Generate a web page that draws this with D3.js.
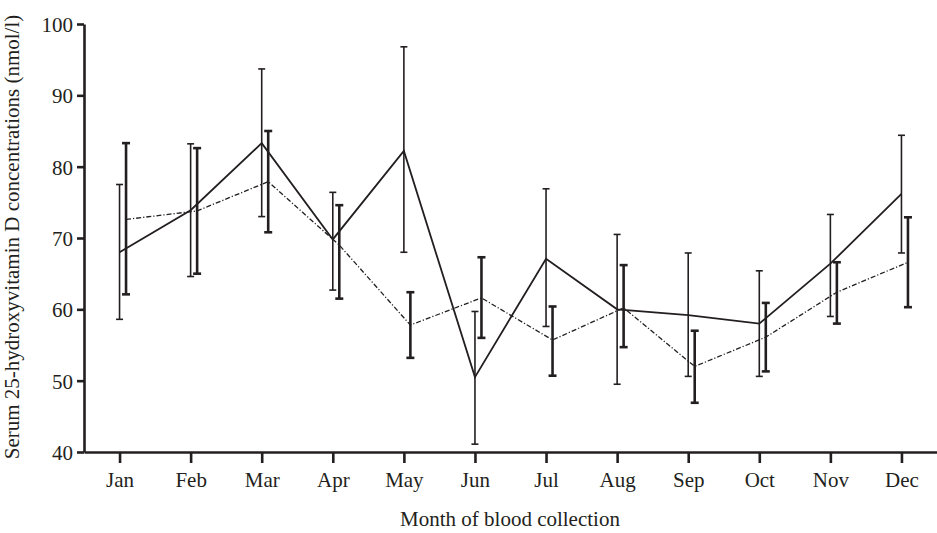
<!DOCTYPE html>
<html>
<head>
<meta charset="utf-8">
<script src="https://cdn.jsdelivr.net/npm/d3@7/dist/d3.min.js"></script>
<style>
  html, body { margin: 0; padding: 0; background: #fff; }
  svg { display: block; }
  text { font-family: "Liberation Serif", "Times New Roman", serif; fill: #231f20; }
</style>
</head>
<body>
<svg id="chart" width="937" height="533"></svg>
<script>
// ---- data ----
const months = ["Jan", "Feb", "Mar", "Apr", "May", "Jun", "Jul", "Aug", "Sep", "Oct", "Nov", "Dec"];
const yTicks = [40, 50, 60, 70, 80, 90, 100];

// Series A (solid line, thin error bars)
const solidMean = [68.0, 73.9, 83.3, 69.8, 82.2, 50.5, 67.1, 60.0, 59.2, 58.0, 66.4, 76.2];
const solidLow  = [58.6, 64.6, 73.0, 62.7, 68.0, 41.1, 57.6, 49.5, 50.6, 50.6, 59.0, 67.9];
const solidHigh = [77.5, 83.2, 93.7, 76.4, 96.8, 59.7, 76.9, 70.5, 67.9, 65.4, 73.3, 84.4];

// Series B (dash-dot line, thick error bars)
const dashMean = [72.6, 73.8, 77.9, 69.0, 57.8, 61.6, 55.7, 60.2, 52.0, 56.1, 62.4, 66.6];
const dashLow  = [62.1, 65.0, 70.8, 61.5, 53.2, 56.0, 50.7, 54.7, 46.9, 51.3, 58.0, 60.3];
const dashHigh = [83.3, 82.6, 85.0, 74.6, 62.4, 67.3, 60.4, 66.2, 57.0, 60.9, 66.6, 72.9];

// ---- layout ----
const ink = "#231f20";
const serif = '"Liberation Serif", "Times New Roman", serif';
const svg = d3.select("#chart");
const x = d3.scalePoint().domain(months).range([84, 937]).padding(0.5);
const y = d3.scaleLinear().domain([40, 100]).range([452, 24]);
const offB = 6.5;

// axes
const yAxis = svg.append("g").attr("transform", "translate(84,0)")
  .call(d3.axisLeft(y).tickValues(yTicks).tickSize(7).tickSizeOuter(0).tickPadding(4).tickFormat(d3.format("d")));
const xAxis = svg.append("g").attr("transform", "translate(0,452)")
  .call(d3.axisBottom(x).tickSize(11).tickSizeOuter(0));

[yAxis, xAxis].forEach(g => {
  g.attr("font-family", serif).attr("font-size", 21);
  g.select(".domain").attr("stroke", ink).attr("stroke-width", 2.6);
  g.selectAll(".tick line").attr("stroke", ink).attr("stroke-width", 2.6);
  g.selectAll(".tick text").attr("fill", ink).style("font-size", "21px").style("font-family", serif);
});
xAxis.selectAll(".tick text").attr("y", 35).attr("dy", 0);
yAxis.selectAll(".tick text").attr("dy", "0.35em");

// axis titles
svg.append("text")
  .attr("x", 510).attr("y", 526)
  .attr("text-anchor", "middle")
  .style("font-size", "21px")
  .text("Month of blood collection");
svg.append("text")
  .attr("transform", "translate(19,237) rotate(-90)")
  .attr("text-anchor", "middle")
  .style("font-size", "21px")
  .text("Serum 25-hydroxyvitamin D concentrations (nmol/l)");

// error bars
function errorBars(low, high, dx, sw, cap) {
  const g = svg.append("g").attr("stroke", ink).attr("stroke-width", sw).attr("fill", "none");
  months.forEach((m, i) => {
    const cx = x(m) + dx;
    g.append("line").attr("x1", cx).attr("x2", cx).attr("y1", y(low[i])).attr("y2", y(high[i]));
    g.append("line").attr("x1", cx - cap).attr("x2", cx + cap).attr("y1", y(low[i])).attr("y2", y(low[i]));
    g.append("line").attr("x1", cx - cap).attr("x2", cx + cap).attr("y1", y(high[i])).attr("y2", y(high[i]));
  });
}
errorBars(solidLow, solidHigh, 0, 1.6, 3.5);
errorBars(dashLow, dashHigh, offB, 2.6, 4);

// lines
const lineA = d3.line().x((d, i) => x(months[i])).y(d => y(d));
const lineB = d3.line().x((d, i) => x(months[i]) + offB).y(d => y(d));
svg.append("path").datum(dashMean).attr("d", lineB)
  .attr("fill", "none").attr("stroke", ink).attr("stroke-width", 1.3)
  .attr("stroke-dasharray", "5,2,1.2,2");
svg.append("path").datum(solidMean).attr("d", lineA)
  .attr("fill", "none").attr("stroke", ink).attr("stroke-width", 1.8);
</script>
</body>
</html>
